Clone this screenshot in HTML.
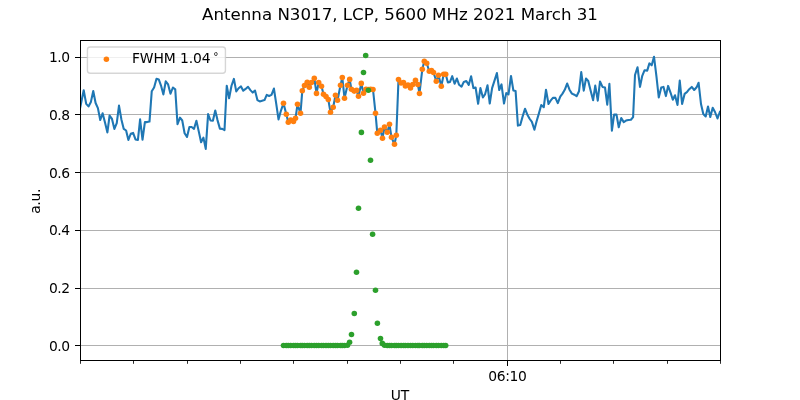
<!DOCTYPE html>
<html><head><meta charset="utf-8"><title>Antenna N3017</title>
<style>html,body{margin:0;padding:0;background:#fff;}svg{display:block}</style></head>
<body>
<svg width="800" height="400" viewBox="0 0 800 400" font-family="DejaVu Sans, Liberation Sans, sans-serif">
<rect width="800" height="400" fill="#fff"/>
<defs><clipPath id="ax"><rect x="80" y="40" width="641" height="321"/></clipPath></defs>
<g stroke="#b0b0b0" stroke-width="1" shape-rendering="crispEdges"><line x1="80" x2="721" y1="57.5" y2="57.5"/><line x1="80" x2="721" y1="114.5" y2="114.5"/><line x1="80" x2="721" y1="172.5" y2="172.5"/><line x1="80" x2="721" y1="230.5" y2="230.5"/><line x1="80" x2="721" y1="288.5" y2="288.5"/><line x1="80" x2="721" y1="345.5" y2="345.5"/><line x1="507.5" x2="507.5" y1="40" y2="361"/></g>
<g clip-path="url(#ax)">
<polyline points="80.00,108.60 83.70,90.20 86.20,103.90 88.50,106.40 90.90,101.90 93.25,91.00 95.60,103.00 97.90,108.10 100.25,120.00 102.60,113.30 105.00,122.50 107.40,132.40 109.60,115.50 112.00,118.90 114.40,128.90 116.75,123.10 119.00,105.60 121.40,119.40 123.75,128.90 126.10,130.50 128.40,140.00 130.75,133.75 133.10,132.90 135.50,139.40 137.90,140.00 140.10,119.40 142.50,139.75 144.90,122.10 147.10,122.10 149.50,121.60 151.75,91.25 154.10,87.50 156.50,78.75 158.75,79.40 161.00,85.60 163.40,94.40 165.75,81.25 168.10,84.40 170.50,93.75 172.90,87.50 175.25,89.40 177.50,124.25 180.00,117.60 182.25,120.50 184.60,133.25 187.00,137.00 189.40,127.00 191.60,127.00 194.00,128.90 196.40,120.75 198.75,131.40 201.10,142.25 203.40,137.60 205.75,148.90 208.10,114.10 210.50,120.50 212.90,120.75 215.25,110.50 217.50,120.10 219.90,128.60 222.25,128.90 224.50,130.10 226.75,85.70 229.10,98.20 231.50,85.75 233.90,78.90 236.25,91.40 238.60,88.25 241.00,86.40 243.25,90.75 245.60,88.90 248.00,86.75 250.40,90.10 252.75,92.60 255.00,90.50 257.40,100.10 259.75,101.40 262.10,100.75 264.50,100.10 266.75,94.90 269.10,96.00 271.50,94.90 273.90,88.50 276.25,103.90 278.50,119.40 280.90,110.75 283.50,103.30 286.30,114.30 288.30,122.20 290.70,120.00 293.50,121.50 295.50,118.30 297.50,104.30 300.50,113.30 302.30,90.70 304.50,85.50 307.20,82.20 309.30,87.20 311.50,82.50 314.30,78.20 316.50,93.40 318.70,82.50 321.50,86.20 323.50,94.30 326.00,96.50 328.30,99.50 330.50,112.30 333.20,107.30 335.50,95.20 337.50,100.20 340.50,85.30 342.30,77.50 344.50,98.20 347.50,85.30 349.70,79.40 351.40,89.20 354.20,91.10 356.60,90.40 358.50,96.30 361.30,83.40 363.50,93.30 366.00,89.40 368.30,89.50 370.70,89.30 373.00,89.50 375.50,113.20 377.30,133.30 380.50,130.30 382.50,138.30 384.50,127.00 387.30,132.30 389.50,124.30 391.50,137.30 394.50,144.30 396.30,135.20 398.50,79.50 401.10,83.00 403.50,82.50 405.40,86.00 408.00,85.00 410.50,88.00 412.80,84.50 415.50,80.20 417.90,84.50 419.50,93.50 422.30,69.30 424.30,61.30 426.70,63.30 429.30,71.30 431.50,70.50 433.50,72.50 436.30,81.30 438.50,75.30 441.30,86.30 443.70,74.30 445.70,74.30 447.90,82.50 450.00,81.90 452.25,76.20 454.60,83.80 456.90,78.50 459.10,84.80 461.50,86.70 463.80,81.90 466.30,81.00 468.75,84.90 471.10,76.20 473.40,88.10 475.60,87.50 478.10,103.75 480.40,88.10 482.90,97.50 485.00,94.40 487.50,85.25 489.75,103.50 492.10,88.10 494.50,80.60 496.90,73.10 499.25,90.00 501.50,84.40 504.00,103.50 506.25,93.10 508.50,94.40 511.00,76.00 513.40,90.60 515.60,91.10 517.90,125.60 520.25,125.00 522.50,116.90 525.00,108.75 527.25,114.40 529.60,118.75 531.90,121.90 534.40,129.75 536.60,121.25 539.00,113.10 541.25,105.00 543.75,107.25 546.00,89.75 548.50,104.00 550.60,100.60 552.90,97.90 555.40,97.90 557.80,103.10 560.25,96.60 562.50,93.60 564.75,89.80 567.20,83.50 569.50,89.70 571.90,93.60 574.40,94.70 576.60,96.25 579.00,91.25 581.25,72.10 583.75,90.60 586.00,78.50 588.25,81.00 590.60,90.60 593.10,100.30 595.25,85.60 597.75,100.60 600.00,81.50 602.50,86.90 605.00,87.50 607.25,104.60 609.40,83.75 611.90,130.60 614.10,114.60 616.50,114.60 618.75,127.25 621.25,118.10 623.75,122.10 626.00,120.60 628.40,120.00 630.90,119.75 633.10,117.10 635.00,75.00 637.50,67.20 640.00,86.90 642.25,75.80 644.50,70.30 647.20,70.60 649.40,63.40 651.70,65.30 654.00,56.70 656.50,76.90 658.75,97.50 661.25,87.50 663.50,86.90 665.90,96.10 668.10,85.90 670.60,92.80 672.80,99.70 675.00,95.30 677.50,105.00 679.75,80.60 682.10,104.00 684.60,93.90 686.90,92.20 689.25,89.20 691.75,86.90 694.20,90.00 696.60,87.30 698.60,82.75 701.00,104.00 703.30,114.00 705.70,116.50 708.00,106.50 710.30,117.00 712.70,107.80 715.00,112.00 717.50,118.50 720.00,111.50 722.30,116.00" fill="none" stroke="#1f77b4" stroke-width="2.08" stroke-linejoin="round" stroke-linecap="butt"/>
<g fill="#ff7f0e"><circle cx="283.50" cy="103.30" r="2.78"/><circle cx="286.30" cy="114.30" r="2.78"/><circle cx="288.30" cy="122.20" r="2.78"/><circle cx="290.70" cy="120.00" r="2.78"/><circle cx="293.50" cy="121.50" r="2.78"/><circle cx="295.50" cy="118.30" r="2.78"/><circle cx="297.50" cy="104.30" r="2.78"/><circle cx="300.50" cy="113.30" r="2.78"/><circle cx="302.30" cy="90.70" r="2.78"/><circle cx="304.50" cy="85.50" r="2.78"/><circle cx="307.20" cy="82.20" r="2.78"/><circle cx="309.30" cy="87.20" r="2.78"/><circle cx="311.50" cy="82.50" r="2.78"/><circle cx="314.30" cy="78.20" r="2.78"/><circle cx="316.50" cy="93.40" r="2.78"/><circle cx="318.70" cy="82.50" r="2.78"/><circle cx="321.50" cy="86.20" r="2.78"/><circle cx="323.50" cy="94.30" r="2.78"/><circle cx="326.00" cy="96.50" r="2.78"/><circle cx="328.30" cy="99.50" r="2.78"/><circle cx="330.50" cy="112.30" r="2.78"/><circle cx="333.20" cy="107.30" r="2.78"/><circle cx="335.50" cy="95.20" r="2.78"/><circle cx="337.50" cy="100.20" r="2.78"/><circle cx="340.50" cy="85.30" r="2.78"/><circle cx="342.30" cy="77.50" r="2.78"/><circle cx="344.50" cy="98.20" r="2.78"/><circle cx="347.50" cy="85.30" r="2.78"/><circle cx="349.70" cy="79.40" r="2.78"/><circle cx="351.40" cy="89.20" r="2.78"/><circle cx="354.20" cy="91.10" r="2.78"/><circle cx="356.60" cy="90.40" r="2.78"/><circle cx="358.50" cy="96.30" r="2.78"/><circle cx="361.30" cy="83.40" r="2.78"/><circle cx="363.50" cy="93.30" r="2.78"/><circle cx="366.00" cy="89.40" r="2.78"/><circle cx="368.30" cy="89.50" r="2.78"/><circle cx="370.70" cy="89.30" r="2.78"/><circle cx="373.00" cy="89.50" r="2.78"/><circle cx="375.50" cy="113.20" r="2.78"/><circle cx="377.30" cy="133.30" r="2.78"/><circle cx="380.50" cy="130.30" r="2.78"/><circle cx="382.50" cy="138.30" r="2.78"/><circle cx="384.50" cy="127.00" r="2.78"/><circle cx="387.30" cy="132.30" r="2.78"/><circle cx="389.50" cy="124.30" r="2.78"/><circle cx="391.50" cy="137.30" r="2.78"/><circle cx="394.50" cy="144.30" r="2.78"/><circle cx="396.30" cy="135.20" r="2.78"/><circle cx="398.50" cy="79.50" r="2.78"/><circle cx="401.10" cy="83.00" r="2.78"/><circle cx="403.50" cy="82.50" r="2.78"/><circle cx="405.40" cy="86.00" r="2.78"/><circle cx="408.00" cy="85.00" r="2.78"/><circle cx="410.50" cy="88.00" r="2.78"/><circle cx="412.80" cy="84.50" r="2.78"/><circle cx="415.50" cy="80.20" r="2.78"/><circle cx="417.90" cy="84.50" r="2.78"/><circle cx="419.50" cy="93.50" r="2.78"/><circle cx="422.30" cy="69.30" r="2.78"/><circle cx="424.30" cy="61.30" r="2.78"/><circle cx="426.70" cy="63.30" r="2.78"/><circle cx="429.30" cy="71.30" r="2.78"/><circle cx="431.50" cy="70.50" r="2.78"/><circle cx="433.50" cy="72.50" r="2.78"/><circle cx="436.30" cy="81.30" r="2.78"/><circle cx="438.50" cy="75.30" r="2.78"/><circle cx="441.30" cy="86.30" r="2.78"/><circle cx="443.70" cy="74.30" r="2.78"/><circle cx="445.70" cy="74.30" r="2.78"/></g>
<g fill="#2ca02c"><circle cx="283.50" cy="345.45" r="2.78"/><circle cx="286.30" cy="345.45" r="2.78"/><circle cx="288.30" cy="345.45" r="2.78"/><circle cx="290.70" cy="345.45" r="2.78"/><circle cx="293.50" cy="345.45" r="2.78"/><circle cx="295.50" cy="345.45" r="2.78"/><circle cx="297.50" cy="345.45" r="2.78"/><circle cx="300.50" cy="345.45" r="2.78"/><circle cx="302.30" cy="345.45" r="2.78"/><circle cx="304.50" cy="345.45" r="2.78"/><circle cx="307.20" cy="345.45" r="2.78"/><circle cx="309.30" cy="345.45" r="2.78"/><circle cx="311.50" cy="345.45" r="2.78"/><circle cx="314.30" cy="345.45" r="2.78"/><circle cx="316.50" cy="345.45" r="2.78"/><circle cx="318.70" cy="345.45" r="2.78"/><circle cx="321.50" cy="345.45" r="2.78"/><circle cx="323.50" cy="345.45" r="2.78"/><circle cx="326.00" cy="345.45" r="2.78"/><circle cx="328.30" cy="345.45" r="2.78"/><circle cx="330.50" cy="345.45" r="2.78"/><circle cx="333.20" cy="345.45" r="2.78"/><circle cx="335.50" cy="345.45" r="2.78"/><circle cx="337.50" cy="345.45" r="2.78"/><circle cx="340.50" cy="345.45" r="2.78"/><circle cx="342.30" cy="345.45" r="2.78"/><circle cx="344.50" cy="345.45" r="2.78"/><circle cx="347.50" cy="345.20" r="2.78"/><circle cx="349.60" cy="342.20" r="2.78"/><circle cx="351.50" cy="334.50" r="2.78"/><circle cx="354.30" cy="313.50" r="2.78"/><circle cx="356.50" cy="272.25" r="2.78"/><circle cx="358.50" cy="208.20" r="2.78"/><circle cx="361.40" cy="132.40" r="2.78"/><circle cx="363.50" cy="72.50" r="2.78"/><circle cx="365.70" cy="55.50" r="2.78"/><circle cx="368.40" cy="90.20" r="2.78"/><circle cx="370.50" cy="160.20" r="2.78"/><circle cx="372.60" cy="234.30" r="2.78"/><circle cx="375.50" cy="290.25" r="2.78"/><circle cx="377.40" cy="323.25" r="2.78"/><circle cx="380.50" cy="338.50" r="2.78"/><circle cx="382.30" cy="343.40" r="2.78"/><circle cx="384.50" cy="345.20" r="2.78"/><circle cx="387.30" cy="345.45" r="2.78"/><circle cx="389.50" cy="345.45" r="2.78"/><circle cx="391.50" cy="345.45" r="2.78"/><circle cx="394.50" cy="345.45" r="2.78"/><circle cx="396.30" cy="345.45" r="2.78"/><circle cx="398.50" cy="345.45" r="2.78"/><circle cx="401.10" cy="345.45" r="2.78"/><circle cx="403.50" cy="345.45" r="2.78"/><circle cx="405.40" cy="345.45" r="2.78"/><circle cx="408.00" cy="345.45" r="2.78"/><circle cx="410.50" cy="345.45" r="2.78"/><circle cx="412.80" cy="345.45" r="2.78"/><circle cx="415.50" cy="345.45" r="2.78"/><circle cx="417.90" cy="345.45" r="2.78"/><circle cx="419.50" cy="345.45" r="2.78"/><circle cx="422.30" cy="345.45" r="2.78"/><circle cx="424.30" cy="345.45" r="2.78"/><circle cx="426.70" cy="345.45" r="2.78"/><circle cx="429.30" cy="345.45" r="2.78"/><circle cx="431.50" cy="345.45" r="2.78"/><circle cx="433.50" cy="345.45" r="2.78"/><circle cx="436.30" cy="345.45" r="2.78"/><circle cx="438.50" cy="345.45" r="2.78"/><circle cx="441.30" cy="345.45" r="2.78"/><circle cx="443.70" cy="345.45" r="2.78"/><circle cx="445.70" cy="345.45" r="2.78"/></g>
</g>
<g stroke="#000" stroke-width="1" shape-rendering="crispEdges">
<rect x="80.5" y="40.5" width="640" height="320" fill="none"/>
<line x1="75.2" x2="80.5" y1="57.5" y2="57.5"/><line x1="75.2" x2="80.5" y1="114.5" y2="114.5"/><line x1="75.2" x2="80.5" y1="172.5" y2="172.5"/><line x1="75.2" x2="80.5" y1="230.5" y2="230.5"/><line x1="75.2" x2="80.5" y1="288.5" y2="288.5"/><line x1="75.2" x2="80.5" y1="345.5" y2="345.5"/>
<line x1="507.5" x2="507.5" y1="360.5" y2="366"/>
</g>
<g stroke="#000" stroke-width="0.83"><line x1="80.50" x2="80.50" y1="360.5" y2="363.8"/><line x1="133.50" x2="133.50" y1="360.5" y2="363.8"/><line x1="187.50" x2="187.50" y1="360.5" y2="363.8"/><line x1="240.50" x2="240.50" y1="360.5" y2="363.8"/><line x1="293.50" x2="293.50" y1="360.5" y2="363.8"/><line x1="347.50" x2="347.50" y1="360.5" y2="363.8"/><line x1="400.50" x2="400.50" y1="360.5" y2="363.8"/><line x1="453.50" x2="453.50" y1="360.5" y2="363.8"/><line x1="560.50" x2="560.50" y1="360.5" y2="363.8"/><line x1="613.50" x2="613.50" y1="360.5" y2="363.8"/><line x1="667.50" x2="667.50" y1="360.5" y2="363.8"/><line x1="720.50" x2="720.50" y1="360.5" y2="363.8"/></g>
<g font-size="13.89px" fill="#000"><text x="69.5" y="62" text-anchor="end" letter-spacing="-0.5">1.0</text><text x="69.5" y="120" text-anchor="end" letter-spacing="-0.5">0.8</text><text x="69.5" y="178" text-anchor="end" letter-spacing="-0.5">0.6</text><text x="69.5" y="235" text-anchor="end" letter-spacing="-0.5">0.4</text><text x="69.5" y="293" text-anchor="end" letter-spacing="-0.5">0.2</text><text x="69.5" y="351" text-anchor="end" letter-spacing="-0.5">0.0</text>
<text x="507.4" y="380.8" text-anchor="middle" letter-spacing="-0.35">06:10</text>
<text x="400" y="399.6" text-anchor="middle">UT</text>
<text transform="translate(39.6,201.4) rotate(-90)" text-anchor="middle" letter-spacing="-0.33">a.u.</text>
</g>
<text x="400" y="19.9" font-size="16.67px" text-anchor="middle" fill="#000">Antenna N3017, LCP, 5600 MHz 2021 March 31</text>
<rect x="87.44" y="46.94" width="138" height="26.3" rx="2.8" ry="2.8" fill="#fff" fill-opacity="0.8" stroke="#ccc" stroke-opacity="0.8" stroke-width="1.39"/>
<circle cx="106.4" cy="59.3" r="2.78" fill="#ff7f0e"/>
<text x="131.9" y="63.0" font-size="13.89px" fill="#000" letter-spacing="-0.1">FWHM 1.04<tspan font-size="10.5px" dx="2.85" dy="-3.15">°</tspan></text>
</svg>
</body></html>
